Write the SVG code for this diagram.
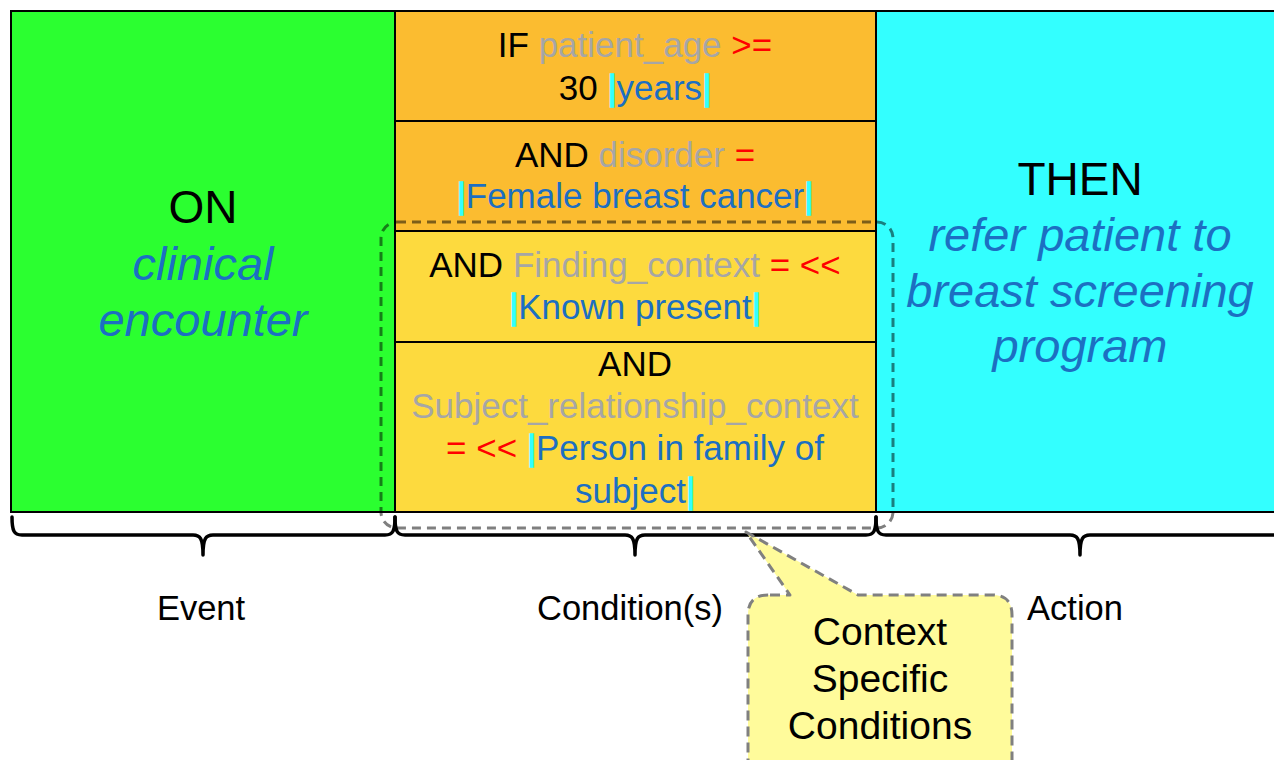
<svg xmlns="http://www.w3.org/2000/svg" width="1274" height="760" viewBox="0 0 1274 760">
<style>
  text { font-family: "Liberation Sans", Arial, sans-serif; }
  .big { font-size: 46px; text-anchor: middle; }
  .bigi { font-size: 47px; text-anchor: middle; font-style: italic; fill: #1C6FC2; }
  .mid { font-size: 35px; text-anchor: middle; }
  .lab { font-size: 34.5px; text-anchor: middle; fill: #000; }
  .call { font-size: 39px; text-anchor: middle; fill: #000; }
  .k { fill: #000000; }
  .g { fill: #A6A6A6; }
  .r { fill: #FF0000; }
  .b { fill: #1C6FC2; }
  .c { fill: #33FFFF; stroke: #33FFFF; stroke-width: 1.6; }
  .box { stroke: #000; stroke-width: 2; }
  .brace { fill: none; stroke: #000; stroke-width: 3.5; stroke-linecap: round; stroke-linejoin: round; }
</style>
<rect width="1274" height="760" fill="#FFFFFF"/>

<g id="event">
  <rect class="box" x="11" y="11" width="384" height="501" fill="#2BFF30"/>
  <text class="big" x="203" y="223"><tspan class="k">ON</tspan></text>
  <text class="bigi" x="203" y="280">clinical</text>
  <text class="bigi" x="203" y="336">encounter</text>
</g>

<g id="action">
  <rect class="box" x="876" y="11" width="410" height="501" fill="#33FFFF"/>
  <text class="big" x="1080" y="195"><tspan class="k">THEN</tspan></text>
  <text class="bigi" x="1080" y="251">refer patient to</text>
  <text class="bigi" x="1080" y="307">breast screening</text>
  <text class="bigi" x="1080" y="362">program</text>
</g>

<g id="conditions">
  <g id="cond-age">
    <rect class="box" x="395" y="11" width="481" height="110" fill="#FBBC30"/>
    <text class="mid" x="635" y="57"><tspan class="k">IF </tspan><tspan class="g">patient_age </tspan><tspan class="r">&gt;=</tspan></text>
    <text class="mid" x="635" y="100"><tspan class="k">30 </tspan><tspan class="c">|</tspan><tspan class="b">years</tspan><tspan class="c">|</tspan></text>
  </g>
  <g id="cond-disorder">
    <rect class="box" x="395" y="121" width="481" height="110" fill="#FBBC30"/>
    <text class="mid" x="635" y="167"><tspan class="k">AND </tspan><tspan class="g">disorder </tspan><tspan class="r">=</tspan></text>
    <text class="mid" x="635" y="208"><tspan class="c">|</tspan><tspan class="b">Female breast cancer</tspan><tspan class="c">|</tspan></text>
  </g>
  <g id="cond-finding">
    <rect class="box" x="395" y="231" width="481" height="111" fill="#FDDA3E"/>
    <text class="mid" x="635" y="277"><tspan class="k">AND </tspan><tspan class="g">Finding_context </tspan><tspan class="r">= &lt;&lt;</tspan></text>
    <text class="mid" x="635" y="319"><tspan class="c">|</tspan><tspan class="b">Known present</tspan><tspan class="c">|</tspan></text>
  </g>
  <g id="cond-subject">
    <rect class="box" x="395" y="342" width="481" height="170" fill="#FDDA3E"/>
    <text class="mid" x="635" y="376"><tspan class="k">AND</tspan></text>
    <text class="mid" x="635" y="418"><tspan class="g">Subject_relationship_context</tspan></text>
    <text class="mid" x="635" y="460"><tspan class="r">= &lt;&lt; </tspan><tspan class="c">|</tspan><tspan class="b">Person in family of</tspan></text>
    <text class="mid" x="635" y="503"><tspan class="b">subject</tspan><tspan class="c">|</tspan></text>
  </g>
</g>

<g id="context-group">
  <rect x="381" y="222" width="512" height="306" rx="16" ry="16" fill="none" stroke="#000" stroke-opacity="0.5" stroke-width="3" stroke-dasharray="9 6"/>
</g>

<g id="braces">
  <path class="brace" d="M12,517 C12,531 14,535 22,535 L193,535 C200,535 203,538 203,555 C203,538 206,535 213,535 L385,535 C393,535 395,531 395,517"/>
  <path class="brace" d="M395,517 C395,531 397,535 405,535 L625,535 C632,535 635,538 635,555 C635,538 638,535 645,535 L866,535 C874,535 876,531 876,517"/>
  <path class="brace" d="M876,517 C876,531 878,535 886,535 L1070,535 C1077,535 1080,538 1080,555 C1080,538 1083,535 1090,535 L1276,535 C1284,535 1286,531 1286,517"/>
  <text class="lab" x="201" y="620">Event</text>
  <text class="lab" x="630" y="620">Condition(s)</text>
  <text class="lab" x="1075" y="620">Action</text>
</g>

<g id="callout">
  <path d="M770,595 L790,595 L746,532 L858,595 L992,595 Q1012,595 1012,615 L1012,780 L748,780 L748,615 Q748,595 768,595 Z" fill="#FFFB9B" stroke="#808080" stroke-width="3" stroke-dasharray="10 6" stroke-linejoin="round"/>
  <text class="call" x="880" y="645">Context</text>
  <text class="call" x="880" y="692">Specific</text>
  <text class="call" x="880" y="739">Conditions</text>
</g>
</svg>
